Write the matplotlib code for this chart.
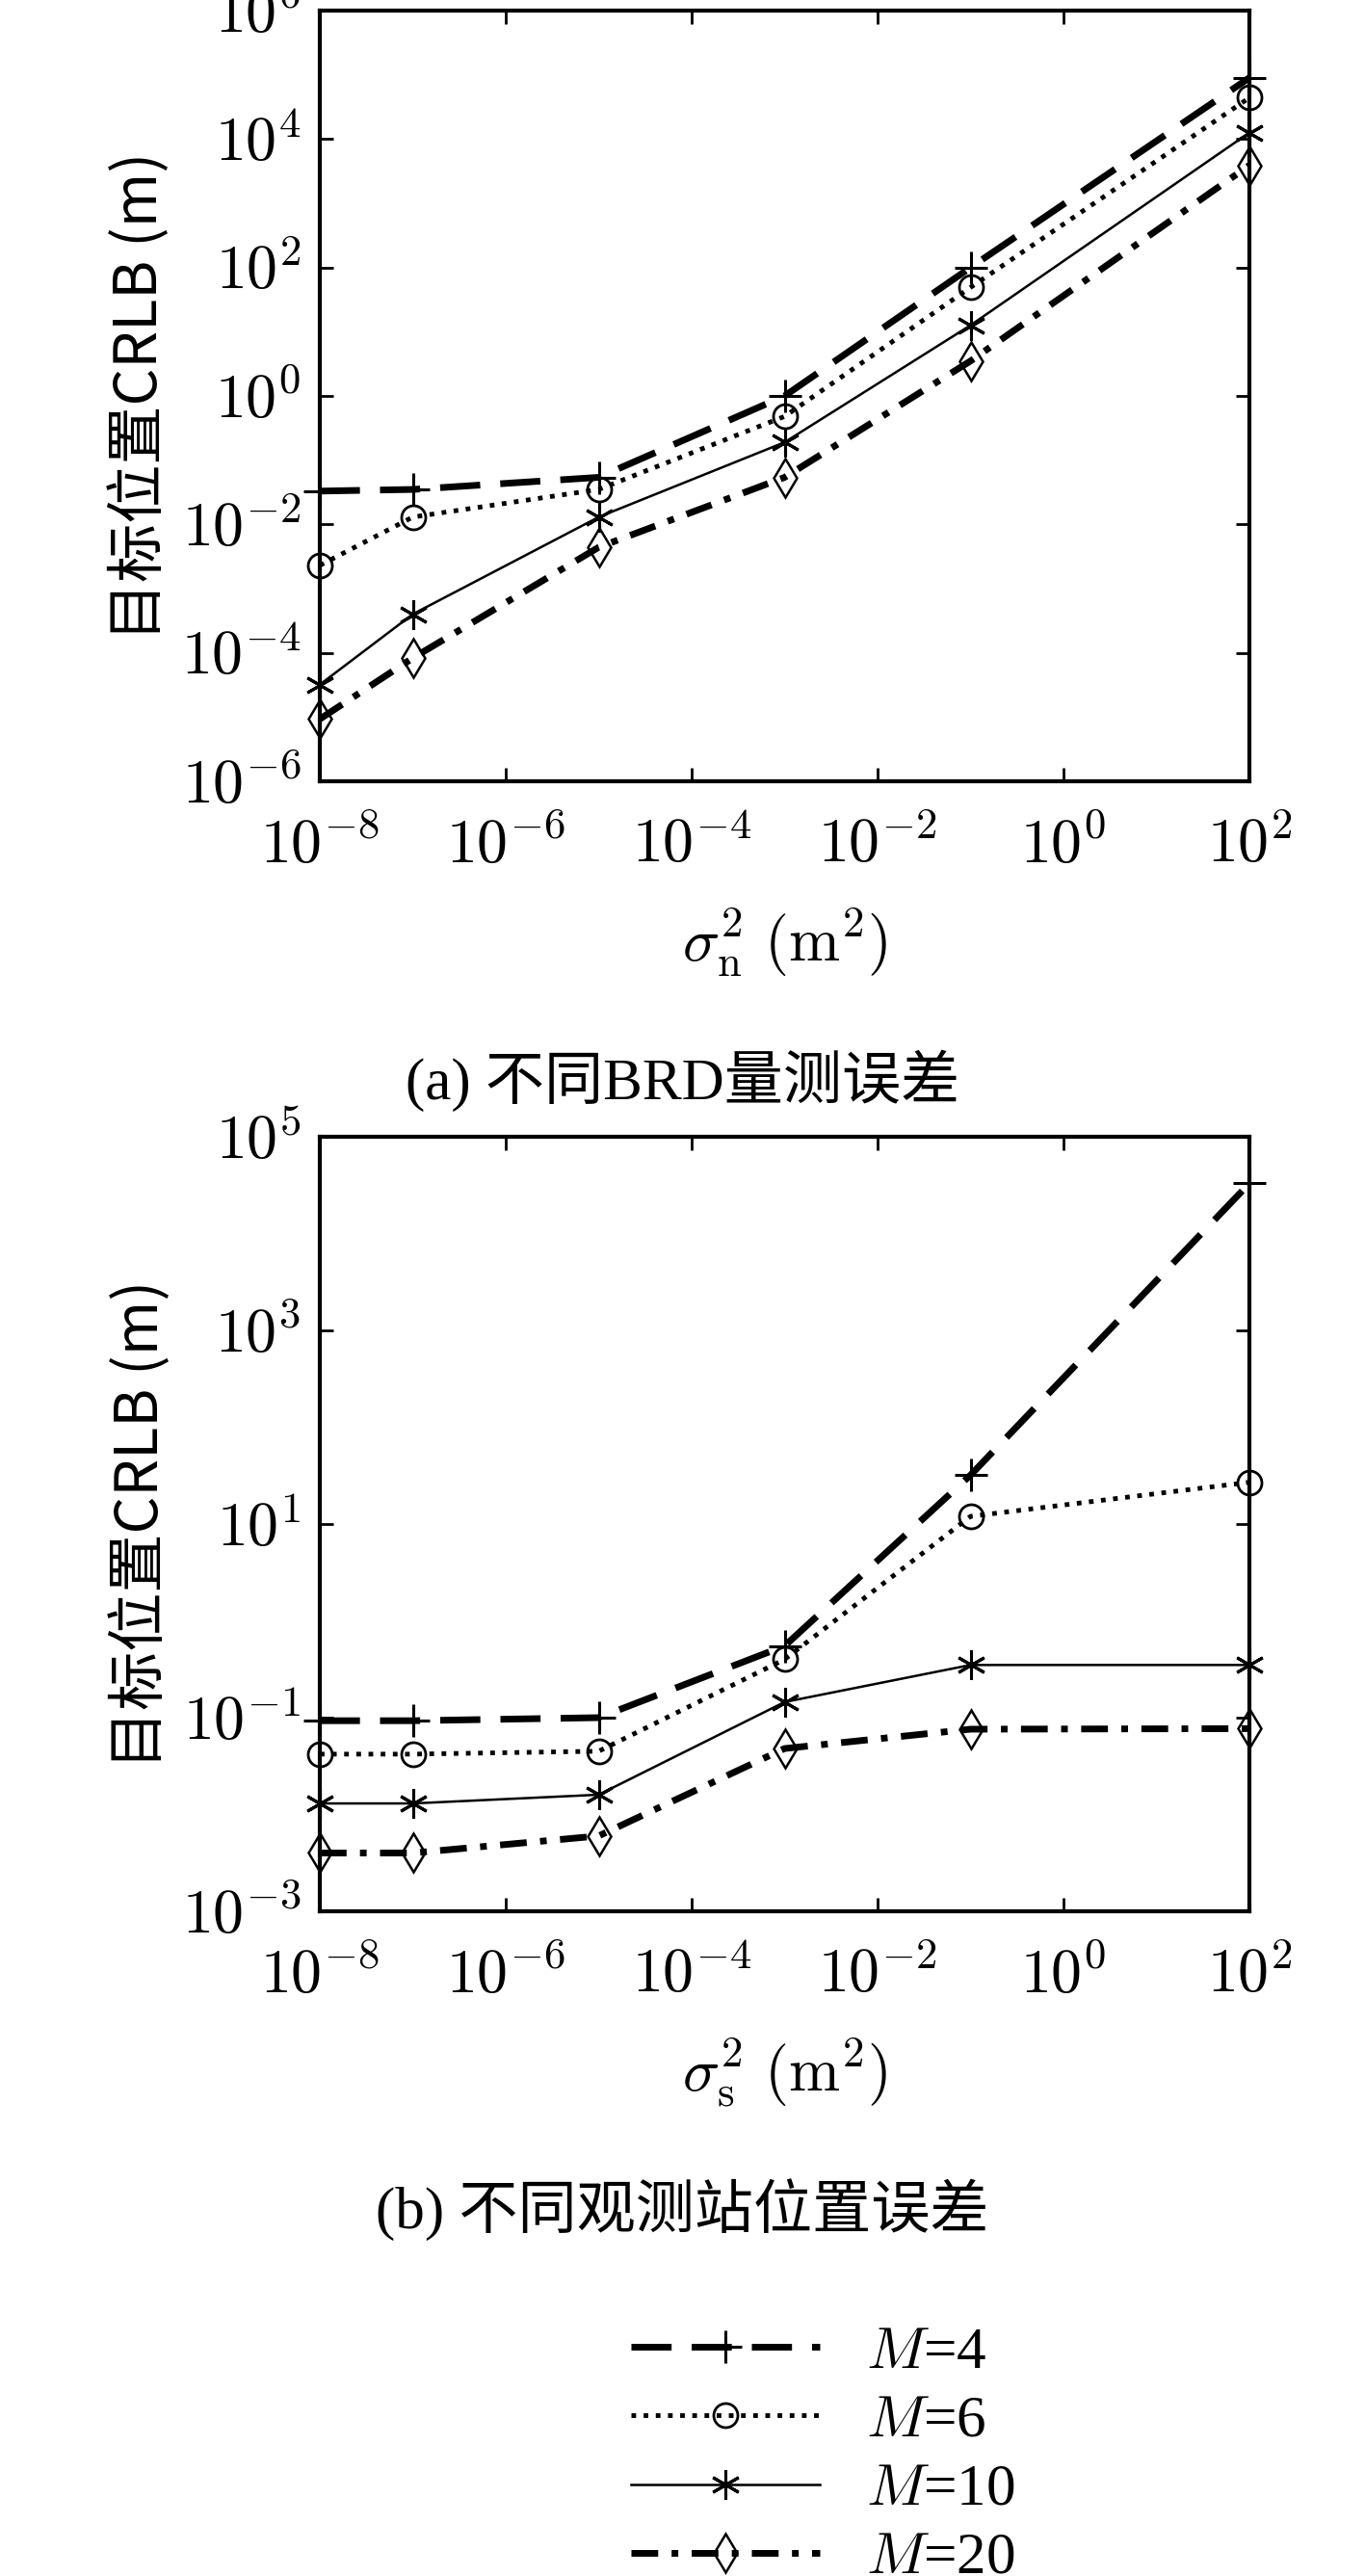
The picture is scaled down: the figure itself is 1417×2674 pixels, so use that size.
import numpy as np
import matplotlib
matplotlib.use("Agg")
import matplotlib.pyplot as plt

plt.rcParams['font.family'] = ['Liberation Serif', 'Noto Sans CJK SC']
plt.rcParams['mathtext.fontset'] = 'cm'

x = [1e-8, 1e-7, 1e-5, 1e-3, 1e-1, 1e2]
labels = ['$M$=4', '$M$=6', '$M$=10', '$M$=20']

top_m4 = [0.033, 0.035, 0.054, 1.0, 100, 9e4]
top_m6 = [0.0023, 0.013, 0.035, 0.48, 49, 4.4e4]
top_m10 = [3.2e-5, 4e-4, 0.013, 0.19, 12.6, 1.26e4]
top_m20 = [9.3e-6, 8.3e-5, 0.0044, 0.054, 3.5, 3.9e3]

bot_m4 = [0.093, 0.093, 0.1, 0.55, 32, 3.3e4]
bot_m6 = [0.042, 0.042, 0.045, 0.4, 12, 27]
bot_m10 = [0.013, 0.013, 0.016, 0.145, 0.35, 0.35]
bot_m20 = [0.004, 0.004, 0.006, 0.048, 0.076, 0.077]

styles = [
    dict(ls=(0, (6, 3)), lw=5, marker='+', ms=24, mew=2.2),
    dict(ls=(0, (1, 1.6)), lw=3.5, marker='o', ms=18, mfc='none', mew=2),
    dict(ls='-', lw=1.8, marker=(6, 2, 0), ms=22, mew=2.2),
    dict(ls=(0, (4, 2, 1, 2)), lw=5, marker='d', ms=20, mfc='none', mew=1.8),
]

fig = plt.figure(figsize=(14.17, 26.74), dpi=100)
W, H = 1417, 2674
ax1 = fig.add_axes([332 / W, 1 - 811 / H, 965 / W, 800 / H])
ax2 = fig.add_axes([332 / W, 1 - 1984 / H, 965 / W, 804 / H])


def draw(ax, series, ylim, yticks, xlab):
    handles = []
    for ys, st, lab in zip(series, styles, labels):
        h, = ax.plot(x, ys, color='black', label=lab, clip_on=False, **st)
        handles.append(h)
    ax.set_xscale('log')
    ax.set_yscale('log')
    ax.set_xlim(1e-8, 1e2)
    ax.set_ylim(*ylim)
    ax.set_xticks([10.0 ** k for k in range(-8, 3, 2)])
    ax.set_xticklabels(['$10^{%d}$' % k for k in range(-8, 3, 2)])
    ax.set_yticks(yticks)
    ax.set_yticklabels(['$10^{%d}$' % int(round(np.log10(t))) for t in yticks])
    ax.minorticks_off()
    ax.tick_params(labelsize=46, direction='in', length=10, width=2,
                   top=True, right=True)
    ax.tick_params(axis='x', pad=28)
    ax.tick_params(axis='y', pad=14)
    for s in ax.spines.values():
        s.set_linewidth(3)
    ax.set_xlabel(xlab, fontsize=46, labelpad=22)
    ax.set_ylabel('目标位置CRLB (m)', fontsize=44, labelpad=8,
                  family=['Noto Sans CJK SC', 'Liberation Serif'])
    return handles


handles = draw(ax1, [top_m4, top_m6, top_m10, top_m20], (1e-6, 1e6),
               [10.0 ** k for k in range(-6, 7, 2)], r'$\sigma_{\rm n}^2\ (\rm m^2)$')
draw(ax2, [bot_m4, bot_m6, bot_m10, bot_m20], (1e-3, 1e5),
     [10.0 ** k for k in range(-3, 6, 2)], r'$\sigma_{\rm s}^2\ (\rm m^2)$')

fig.text(0.5, 1 - 1122 / H, '(a) 不同BRD量测误差', ha='center', va='center',
         fontsize=44, family=['Liberation Serif', 'Noto Sans CJK SC'])
fig.text(0.5, 1 - 2294 / H, '(b) 不同观测站位置误差', ha='center', va='center',
         fontsize=44, family=['Liberation Serif', 'Noto Sans CJK SC'])

fig.legend(handles=handles, loc='upper left', bbox_to_anchor=(600 / W, 1 - 2360 / H),
           frameon=False, fontsize=44, handlelength=3.2, labelspacing=0.25,
           handletextpad=0.8)

fig.savefig('out.png', dpi=100, facecolor='white')
